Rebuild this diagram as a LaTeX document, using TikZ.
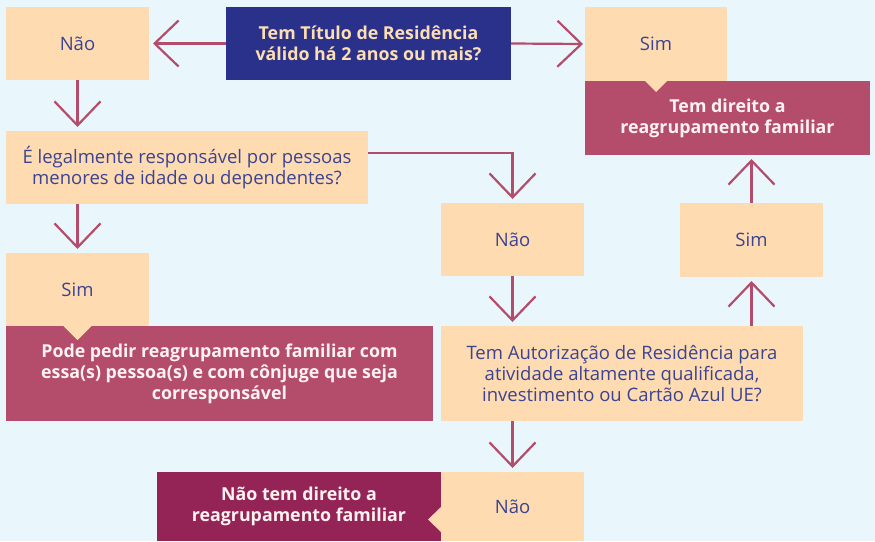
\documentclass[tikz,border=0pt]{standalone}
\usepackage{fontspec}
\setmainfont{Open Sans}
\usetikzlibrary{arrows.meta}
\definecolor{bg}{HTML}{E9F6FC}
\definecolor{cream}{HTML}{FEDBB1}
\definecolor{navy}{HTML}{2A318A}
\definecolor{rose}{HTML}{B44C6C}
\definecolor{plum}{HTML}{952456}
\definecolor{txtblue}{HTML}{3B4492}
\definecolor{txtcream}{HTML}{FDDDB2}
\definecolor{txtwhite}{HTML}{FFF3F2}
\begin{document}
\begin{tikzpicture}[x=1pt,y=-1pt,
  base/.style={inner sep=0pt, outer sep=0pt, anchor=north west, align=center},
  cbox/.style={base, fill=cream, text=txtblue, font=\fontsize{18.5}{21}\selectfont},
  nbox/.style={base, fill=navy, text=txtcream, font=\bfseries\fontsize{17.8}{21}\selectfont},
  pbox/.style={base, fill=rose, text=txtwhite, font=\bfseries\fontsize{17.8}{21}\selectfont},
  mbox/.style={base, fill=plum, text=txtwhite, font=\bfseries\fontsize{17.8}{21}\selectfont},
  arr/.style={draw=rose, line width=2.2pt, -{Straight Barb[length=24pt, width=46pt]}, shorten >=4pt}]
\fill[bg] (0,0) rectangle (875,541);
\useasboundingbox (0,0) rectangle (875,541);

\node[cbox, minimum width=143pt, minimum height=73pt] (nao1) at (6,7) {Não};
\node[nbox, minimum width=285pt, minimum height=73pt] (q1) at (226,7) {Tem Título de Residência\\válido há 2 anos ou mais?};
\node[cbox, minimum width=142pt, minimum height=74pt] (sim1) at (585,7) {Sim};
\node[pbox, minimum width=285pt, minimum height=74pt] (res1) at (585,81) {Tem direito a\\reagrupamento familiar};
\node[cbox, minimum width=362pt, minimum height=73pt] (q2) at (6,131) {É legalmente responsável por pessoas\\menores de idade ou dependentes?};
\node[cbox, minimum width=143pt, minimum height=73pt] (sim2) at (6,253) {Sim};
\node[pbox, minimum width=427pt, minimum height=95pt] (res2) at (6,326) {Pode pedir reagrupamento familiar com\\essa(s) pessoa(s) e com cônjuge que seja\\corresponsável};
\node[cbox, minimum width=143pt, minimum height=73pt] (nao2) at (441,203) {Não};
\node[cbox, minimum width=143pt, minimum height=74pt] (sim3) at (680,203) {Sim};
\node[cbox, minimum width=362pt, minimum height=95pt] (q3) at (441,326) {Tem Autorização de Residência para\\atividade altamente qualificada,\\investimento ou Cartão Azul UE?};
\node[cbox, minimum width=143pt, minimum height=69pt] (nao3) at (441,472) {Não};
\node[mbox, minimum width=284pt, minimum height=69pt] (res3) at (157,472) {Não tem direito a\\reagrupamento familiar};

% notches
\fill[cream] ([xshift=-11pt]sim1.south) -- ([xshift=11pt]sim1.south) -- ([yshift=-11pt]sim1.south) -- cycle;
\fill[cream] ([xshift=-14pt]sim2.south) -- ([xshift=14pt]sim2.south) -- ([yshift=-14pt]sim2.south) -- cycle;
\fill[cream] ([yshift=-0.5pt]nao3.west) -- ([yshift=-25.5pt]nao3.west) -- ([xshift=-13pt,yshift=-13pt]nao3.west) -- cycle;

% connectors
\draw[arr] (q1.west) -- (nao1.east);
\draw[arr, shorten >=2pt] (q1.east) -- (sim1.west);
\draw[arr] (nao1.south) -- (nao1.south |- q2.north);
\draw[arr] ([yshift=14.5pt]q2.east) -| (nao2.north);
\draw[arr] (q2.south -| sim2.south) -- (sim2.north);
\draw[arr] (nao2.south) -- (nao2.south |- q3.north);
\draw[arr] (q3.north -| sim3.south) -- (sim3.south);
\draw[arr] (sim3.north) -- (sim3.north |- res1.south);
\draw[arr] (q3.south -| nao3.north) -- (nao3.north);
\end{tikzpicture}
\end{document}
